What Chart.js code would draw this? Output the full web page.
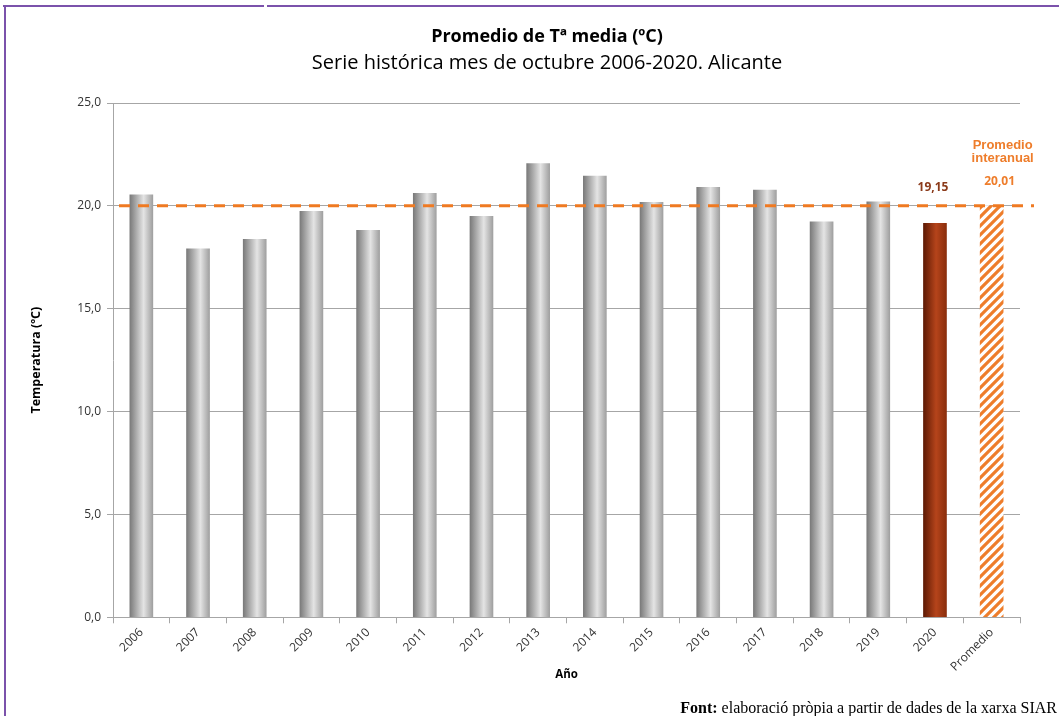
<!DOCTYPE html>
<html>
<head>
<meta charset="utf-8">
<script src="https://cdn.jsdelivr.net/npm/chart.js@4.4.1/dist/chart.umd.min.js"></script>
<style>
  body { margin: 0; background: #fff; }
  #wrap { position: relative; width: 1059px; height: 716px; overflow: hidden; font-family: "Open Sans", sans-serif; }
  #chart { position: absolute; left: 0; top: 0; }
  .frame-top { position: absolute; top: 5px; height: 2px; background: #7b52ab; }
  .frame-left { position: absolute; left: 4px; top: 5px; width: 2px; height: 720px; background: #7b52ab; }
  #title { position: absolute; left: 0; width: 1094px; top: 23px; text-align: center; font-weight: bold; font-size: 18px; color: #000; }
  #subtitle { position: absolute; left: 0; width: 1094px; top: 48px; text-align: center; font-size: 20px; color: #000; }
  #source { position: absolute; right: 2px; top: 699px; font-family: "Liberation Serif", "Times New Roman", serif; font-size: 16px; color: #000; white-space: nowrap; }
</style>
</head>
<body>
<div id="wrap">
  <canvas id="chart" width="1059" height="716"></canvas>
  <div class="frame-top" style="left:3px;width:261px"></div>
  <div class="frame-top" style="left:267px;width:800px"></div>
  <div class="frame-left"></div>
  <div id="title">Promedio de Tª media (ºC)</div>
  <div id="subtitle">Serie histórica mes de octubre 2006-2020. Alicante</div>
  <div id="source"><b>Font:</b> elaboració pròpia a partir de dades de la xarxa SIAR</div>
</div>
<script>
// octubre, Alicante (ºC)
var years = ["2006", "2007", "2008", "2009", "2010", "2011", "2012", "2013", "2014",
             "2015", "2016", "2017", "2018", "2019", "2020", "Promedio"];
var tempMedia = [20.53, 17.91, 18.37, 19.73, 18.81, 20.61, 19.49, 22.05, 21.45,
                 20.17, 20.90, 20.77, 19.22, 20.20, 19.15, 20.01];
var promedioInteranual = 20.01;
var yMin = 0, yMax = 25, yStep = 5;

var BAR_W = 23;

function fmt(v, d) {
    return v.toFixed(d).replace('.', ',');
}

function stripes() {
    var c = document.createElement('canvas');
    c.width = 9; c.height = 9;
    var g = c.getContext('2d');
    g.fillStyle = '#ffffff';
    g.fillRect(0, 0, 9, 9);
    g.strokeStyle = '#ee7d2b';
    g.lineWidth = 3.2;
    g.beginPath();
    g.moveTo(-4.5, 4.5); g.lineTo(4.5, -4.5);
    g.moveTo(0, 9); g.lineTo(9, 0);
    g.moveTo(4.5, 13.5); g.lineTo(13.5, 4.5);
    g.stroke();
    return g.createPattern(c, 'repeat');
}
var stripeFill = null;

function barFill(context) {
    var chart = context.chart;
    var i = context.dataIndex;
    if (i === years.length - 1) {
        if (!stripeFill) stripeFill = stripes();
        return stripeFill;
    }
    if (!chart.chartArea || !chart.scales.x) return '#bdbdbd';
    var x = chart.scales.x.getPixelForValue(i);
    var grd = chart.ctx.createLinearGradient(x - BAR_W / 2, 0, x + BAR_W / 2, 0);
    if (years[i] === "2020") {
        grd.addColorStop(0, '#5e1a04');
        grd.addColorStop(0.55, '#b5441b');
        grd.addColorStop(1, '#8a2e0c');
    } else {
        grd.addColorStop(0, '#7a7a7a');
        grd.addColorStop(0.6, '#e4e4e4');
        grd.addColorStop(1, '#a0a0a0');
    }
    return grd;
}

var avgLine = {
    id: 'avgLine',
    afterDatasetsDraw: function (chart) {
        var ctx = chart.ctx;
        var area = chart.chartArea;
        var y = chart.scales.y.getPixelForValue(promedioInteranual);
        var meta = chart.getDatasetMeta(0);
        ctx.save();
        ctx.strokeStyle = '#ef7a22';
        ctx.lineWidth = 3;
        ctx.setLineDash([11, 8]);
        ctx.beginPath();
        ctx.moveTo(area.left + 6, y);
        ctx.lineTo(area.right + 14, y);
        ctx.stroke();
        ctx.setLineDash([]);

        ctx.textAlign = 'center';
        ctx.textBaseline = 'middle';
        var b20 = meta.data[years.indexOf("2020")];
        ctx.fillStyle = '#8b3a1a';
        ctx.font = 'bold 12px "Open Sans"';
        ctx.fillText(fmt(tempMedia[years.indexOf("2020")], 2), b20.x - 2, b20.y - 36);

        var bp = meta.data[years.length - 1];
        ctx.fillStyle = '#ee7d2b';
        ctx.fillText(fmt(promedioInteranual, 2), bp.x + 8, bp.y - 24);
        ctx.font = 'bold 13px "Liberation Sans"';
        ctx.fillText('Promedio', bp.x + 11, bp.y - 60);
        ctx.fillText('interanual', bp.x + 11, bp.y - 47);
        ctx.restore();
    }
};

new Chart(document.getElementById('chart').getContext('2d'), {
    type: 'bar',
    data: {
        labels: years,
        datasets: [{
            label: 'Tª media',
            data: tempMedia,
            backgroundColor: barFill,
            barThickness: BAR_W,
            borderWidth: 0
        }]
    },
    options: {
        responsive: false,
        animation: false,
        layout: { padding: { top: 103, left: 29, right: 39, bottom: 34 } },
        plugins: {
            legend: { display: false },
            tooltip: { enabled: false }
        },
        scales: {
            x: {
                grid: { drawOnChartArea: false, drawTicks: true, tickLength: 6, color: '#a6a6a6' },
                border: { color: '#a6a6a6' },
                ticks: { minRotation: 45, maxRotation: 45, color: '#333333', font: { family: 'Open Sans', size: 12 }, padding: 2 },
                title: { display: true, text: 'Año', color: '#000', font: { family: 'Open Sans', size: 11.5, weight: 'bold' }, padding: { top: -8, bottom: 0 } }
            },
            y: {
                min: yMin,
                max: yMax,
                ticks: { stepSize: yStep, color: '#333333', font: { family: 'Open Sans', size: 12 }, padding: 6,
                         callback: function (v) { return fmt(v, 1); } },
                grid: { color: '#a6a6a6', tickLength: 6 },
                border: { color: '#a6a6a6' },
                title: { display: true, text: 'Temperatura (ºC)', color: '#000', font: { family: 'Open Sans', size: 12.5, weight: 'bold' }, padding: { top: 0, bottom: 0 } },
                afterFit: function (scale) { scale.width = 84; }
            }
        }
    },
    plugins: [avgLine]
});
</script>
</body>
</html>
